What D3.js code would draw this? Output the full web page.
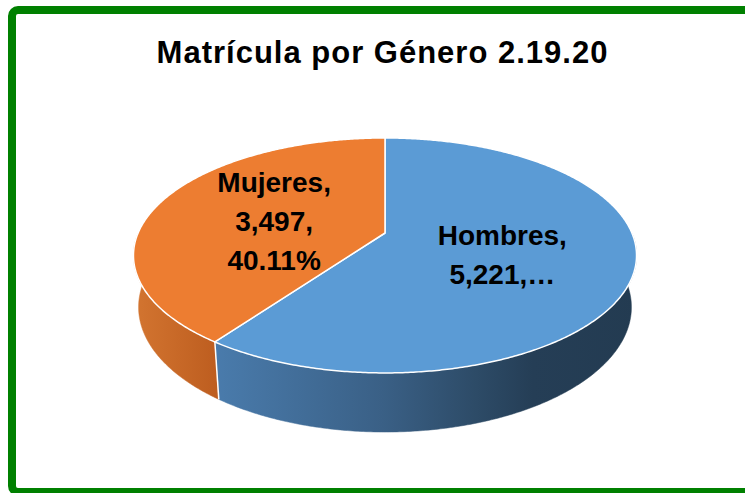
<!DOCTYPE html>
<html>
<head>
<meta charset="utf-8">
<script src="https://cdn.jsdelivr.net/npm/d3@7"></script>
<style>
  html, body { margin: 0; padding: 0; background: #ffffff; }
  svg { display: block; }
</style>
</head>
<body>
<svg id="chart" width="745" height="493"></svg>
<script>
// ---- data ----
const title = "Matrícula por Género 2.19.20";
const categories = ["Hombres", "Mujeres"];
const values = [5221, 3497];
const truncated = [true, false];
const topColors = ["#5B9BD5", "#ED7D31"];

// ---- layout ----
const W = 745, H = 493;
const svg = d3.select("#chart");

// frame
svg.append("rect")
  .attr("x", 12).attr("y", 10)
  .attr("width", 770).attr("height", 482)
  .attr("rx", 6)
  .attr("fill", "#ffffff")
  .attr("stroke", "#008000")
  .attr("stroke-width", 8);

// title
svg.append("text")
  .attr("x", 382.5).attr("y", 63)
  .attr("text-anchor", "middle")
  .attr("font-family", "'Liberation Sans', Arial, sans-serif")
  .attr("font-weight", "bold")
  .attr("font-size", 31)
  .attr("letter-spacing", "1px")
  .attr("fill", "#000")
  .text(title);

// perspective projection of the pie disk
const P = { cx: 385, cy: 233, A: 246.9, B: 113.2, k: 0.191, T: 51.8, e: 0.02 };
function proj(theta, r, d) {
  const X = r * Math.sin(theta), Y = -r * Math.cos(theta);
  const w = 1 - P.k * Y + P.e * d;
  return [P.cx + P.A * X / w, P.cy + (P.B * Y + P.T * d) / w];
}
function arcPts(a0, a1, r, d) {
  const n = Math.max(2, Math.ceil(Math.abs(a1 - a0) / (Math.PI / 360)));
  const pts = [];
  for (let i = 0; i <= n; i++) pts.push(proj(a0 + (a1 - a0) * i / n, r, d));
  return pts;
}

const total = d3.sum(values);
const pie = d3.pie().sort(null).value(d => d)(values);
const fmt = d3.format(",");
const pctFmt = d3.format(".2%");

// gradients for side walls
const defs = svg.append("defs");
const gH = defs.append("linearGradient").attr("id", "sideH")
  .attr("gradientUnits", "userSpaceOnUse")
  .attr("x1", 210).attr("y1", 0).attr("x2", 640).attr("y2", 0);
[[0, "#4A7CAD"], [0.4, "#3A6086"], [0.62, "#2D4B67"], [0.75, "#253E56"], [1, "#233B51"]]
  .forEach(s => gH.append("stop").attr("offset", s[0]).attr("stop-color", s[1]));
const gM = defs.append("linearGradient").attr("id", "sideM")
  .attr("gradientUnits", "userSpaceOnUse")
  .attr("x1", 130).attr("y1", 0).attr("x2", 215).attr("y2", 0);
[[0, "#D47631"], [1, "#BE5E20"]]
  .forEach(s => gM.append("stop").attr("offset", s[0]).attr("stop-color", s[1]));
const sideFills = ["url(#sideH)", "url(#sideM)"];

const line = d3.line();

// side walls (front half only)
const frontLo = Math.PI / 2, frontHi = 3 * Math.PI / 2;
const sides = svg.append("g");
pie.forEach((s, i) => {
  const lo = Math.max(s.startAngle, frontLo), hi = Math.min(s.endAngle, frontHi);
  if (hi <= lo) return;
  const pts = arcPts(lo, hi, 1, 0).concat(arcPts(hi, lo, 1, 1));
  sides.append("path")
    .attr("d", line(pts) + "Z")
    .attr("fill", sideFills[i])
    .attr("stroke", sideFills[i])
    .attr("stroke-width", 0.5);
});
// white edges on side at slice boundaries in front
pie.forEach(s => {
  const a = s.endAngle;
  if (a > frontLo && a < frontHi) {
    sides.append("path")
      .attr("d", line([proj(a, 1, 0), proj(a, 1, 1)]))
      .attr("stroke", "#ffffff").attr("stroke-width", 1.5).attr("fill", "none");
  }
});

// top faces
const tops = svg.append("g");
pie.forEach((s, i) => {
  const pts = [proj(0, 0, 0)].concat(arcPts(s.startAngle, s.endAngle, 1, 0));
  tops.append("path")
    .attr("d", line(pts) + "Z")
    .attr("fill", topColors[i])
    .attr("stroke", "#ffffff")
    .attr("stroke-width", 1.5)
    .attr("stroke-linejoin", "round");
});

// data labels
const labels = svg.append("g")
  .attr("font-family", "'Liberation Sans', Arial, sans-serif")
  .attr("font-weight", "bold")
  .attr("font-size", 28)
  .attr("fill", "#000")
  .attr("text-anchor", "middle");
pie.forEach((s, i) => {
  const mid = (s.startAngle + s.endAngle) / 2;
  const [lx, ly] = proj(mid, 0.485, 0);
  const linesTxt = truncated[i]
    ? [categories[i] + ",", fmt(values[i]) + ",…"]
    : [categories[i] + ",", fmt(values[i]) + ",", pctFmt(values[i] / total)];
  const lh = 39, n = linesTxt.length;
  const t = labels.append("text");
  linesTxt.forEach((L, j) => {
    t.append("tspan")
      .attr("x", lx)
      .attr("y", ly + 4 + (j - (n - 1) / 2) * lh + 10)
      .text(L);
  });
});
</script>
</body>
</html>
